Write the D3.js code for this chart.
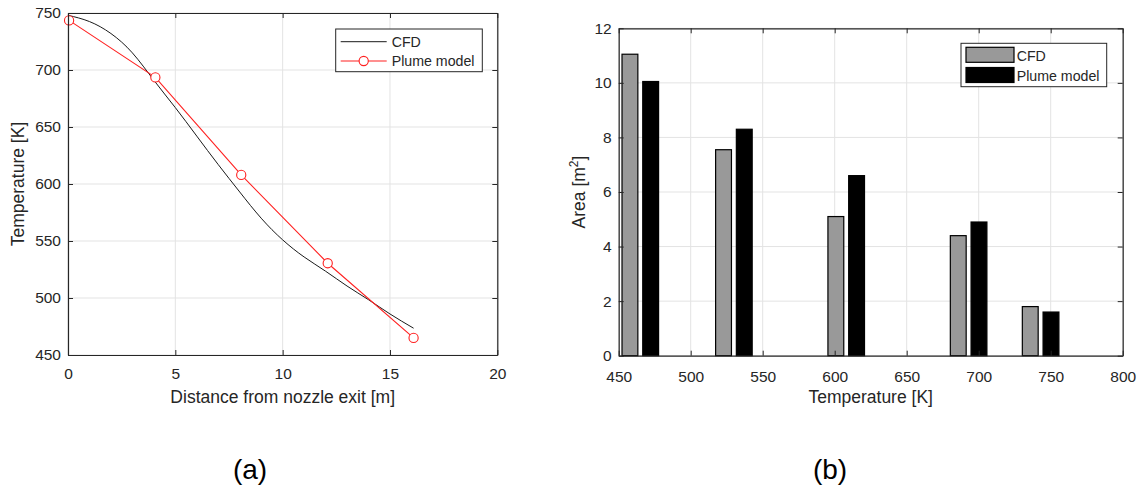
<!DOCTYPE html>
<html>
<head>
<meta charset="utf-8">
<script src="https://cdn.jsdelivr.net/npm/d3@7"></script>
<style>
  html, body { margin: 0; padding: 0; background: #fff; }
  svg { display: block; font-family: "Liberation Sans", Arial, Helvetica, sans-serif; }
</style>
</head>
<body>
<svg id="fig" width="1141" height="493"></svg>
<script>
// (a) Centreline temperature along the plume
const distanceTicks = [0, 5, 10, 15, 20];
const temperatureTicks = [450, 500, 550, 600, 650, 700, 750];
const cfdDistance = [0, 1, 2, 3, 4, 5, 6, 7, 8, 9, 10, 11, 12, 13, 14, 15, 16.1];
const cfdTemperature = [748, 742.5, 732, 715, 691, 667, 642, 617, 593, 570, 551, 536, 523.5, 510.5, 498.5, 486, 473.5];
const plumeDistance = [0.05, 4.07, 8.07, 12.1, 16.1];
const plumeTemperature = [743.5, 693.5, 608, 530.5, 465];

// (b) Area enclosed by each isotherm
const isotherms = [465, 530, 608, 693, 743];
const areaCFD = [11.05, 7.55, 5.1, 4.4, 1.8];
const areaPlume = [10.05, 8.3, 6.6, 4.9, 1.6];
const isothermTicks = [450, 500, 550, 600, 650, 700, 750, 800];
const areaTicks = [0, 2, 4, 6, 8, 10, 12];

const svg = d3.select("#fig");
const ink = "#262626";
const gridColor = "#e3e3e3";

function grid(g, x, y, xTicks, yTicks) {
  const [x0, x1] = x.range();
  const [y1, y0] = y.range();
  g.append("g").selectAll("line").data(xTicks).join("line")
    .attr("x1", d => x(d)).attr("x2", d => x(d)).attr("y1", y0).attr("y2", y1)
    .attr("stroke", gridColor).attr("stroke-width", 1);
  g.append("g").selectAll("line").data(yTicks).join("line")
    .attr("x1", x0).attr("x2", x1).attr("y1", d => y(d)).attr("y2", d => y(d))
    .attr("stroke", gridColor).attr("stroke-width", 1);
}

function axes(g, x, y, xTicks, yTicks, xPad) {
  const [x0, x1] = x.range();
  const [y1, y0] = y.range();
  const style = sel => {
    sel.select(".domain").attr("stroke", ink).attr("stroke-width", 1.2).attr("fill", "none");
    sel.selectAll(".tick line").attr("stroke", ink);
    sel.selectAll("text").attr("fill", ink).attr("font-size", 15.5)
      .attr("font-family", '"Liberation Sans", Arial, Helvetica, sans-serif');
  };
  g.append("g").attr("transform", `translate(0,${y1})`)
    .call(d3.axisBottom(x).tickValues(xTicks).tickSize(-5).tickPadding(xPad).tickSizeOuter(0))
    .call(style);
  g.append("g").attr("transform", `translate(0,${y0})`)
    .call(d3.axisTop(x).tickValues(xTicks).tickSize(-5).tickFormat("").tickSizeOuter(0))
    .call(style);
  g.append("g").attr("transform", `translate(${x0},0)`)
    .call(d3.axisLeft(y).tickValues(yTicks).tickSize(-5).tickPadding(7).tickSizeOuter(0))
    .call(style);
  g.append("g").attr("transform", `translate(${x1},0)`)
    .call(d3.axisRight(y).tickValues(yTicks).tickSize(-5).tickFormat("").tickSizeOuter(0))
    .call(style);
}

// ---------- panel (a) ----------
const xa = d3.scaleLinear().domain([0, 20]).range([68, 497.3]);
const ya = d3.scaleLinear().domain([450, 750]).range([355, 13]);
const ga = svg.append("g");
grid(ga, xa, ya, distanceTicks, temperatureTicks);

const cfdPts = cfdDistance.map((d, i) => [d, cfdTemperature[i]]);
const plumePts = plumeDistance.map((d, i) => [d, plumeTemperature[i]]);

ga.append("path")
  .attr("d", d3.line().x(d => xa(d[0])).y(d => ya(d[1])).curve(d3.curveNatural)(cfdPts))
  .attr("fill", "none").attr("stroke", "#1a1a1a").attr("stroke-width", 1);
ga.append("path")
  .attr("d", d3.line().x(d => xa(d[0])).y(d => ya(d[1]))(plumePts))
  .attr("fill", "none").attr("stroke", "#ff2020").attr("stroke-width", 1.1);
ga.append("g").selectAll("circle").data(plumePts).join("circle")
  .attr("cx", d => xa(d[0])).attr("cy", d => ya(d[1])).attr("r", 4.6)
  .attr("fill", "#fff").attr("stroke", "#ff2020").attr("stroke-width", 1.1);

axes(ga, xa, ya, distanceTicks, temperatureTicks, 13);

ga.append("text").attr("x", 282.7).attr("y", 403).attr("text-anchor", "middle")
  .attr("font-size", 17.5).attr("fill", ink).text("Distance from nozzle exit [m]");
ga.append("text").attr("transform", "translate(24,184) rotate(-90)").attr("text-anchor", "middle")
  .attr("font-size", 17.5).attr("fill", ink).text("Temperature [K]");

// legend (a)
const la = ga.append("g");
la.append("rect").attr("x", 335.7).attr("y", 29).attr("width", 146.6).attr("height", 42.7)
  .attr("fill", "#fff").attr("stroke", ink).attr("stroke-width", 1);
la.append("line").attr("x1", 340.7).attr("x2", 386.7).attr("y1", 41.7).attr("y2", 41.7)
  .attr("stroke", "#1a1a1a").attr("stroke-width", 1);
la.append("line").attr("x1", 340.7).attr("x2", 386.7).attr("y1", 61).attr("y2", 61)
  .attr("stroke", "#ff2020").attr("stroke-width", 1.1);
la.append("circle").attr("cx", 363.7).attr("cy", 61).attr("r", 4.6)
  .attr("fill", "#fff").attr("stroke", "#ff2020").attr("stroke-width", 1.1);
la.append("text").attr("x", 391.7).attr("y", 46.7).attr("font-size", 14.2).attr("fill", ink).text("CFD");
la.append("text").attr("x", 391.7).attr("y", 66).attr("font-size", 14.2).attr("fill", ink).text("Plume model");

// ---------- panel (b) ----------
const xb = d3.scaleLinear().domain([450, 800]).range([618.7, 1122.7]);
const yb = d3.scaleLinear().domain([0, 12]).range([355.7, 28.3]);
const gb = svg.append("g");
grid(gb, xb, yb, isothermTicks, areaTicks);

const barW = 11;    // K
const barOff = 7.2; // K, half spacing between paired bars
const bars = gb.append("g");
bars.selectAll("rect.cfd").data(isotherms).join("rect").attr("class", "cfd")
  .attr("x", d => xb(d - barOff - barW / 2)).attr("width", xb(450 + barW) - xb(450))
  .attr("y", (d, i) => yb(areaCFD[i])).attr("height", (d, i) => yb(0) - yb(areaCFD[i]))
  .attr("fill", "#999999").attr("stroke", "#000").attr("stroke-width", 1.2);
bars.selectAll("rect.plume").data(isotherms).join("rect").attr("class", "plume")
  .attr("x", d => xb(d + barOff - barW / 2)).attr("width", xb(450 + barW) - xb(450))
  .attr("y", (d, i) => yb(areaPlume[i])).attr("height", (d, i) => yb(0) - yb(areaPlume[i]))
  .attr("fill", "#000").attr("stroke", "#000").attr("stroke-width", 1.2);

axes(gb, xb, yb, isothermTicks, areaTicks, 15);

gb.append("text").attr("x", 870.7).attr("y", 403).attr("text-anchor", "middle")
  .attr("font-size", 17.5).attr("fill", ink).text("Temperature [K]");
const ylab = gb.append("text").attr("transform", "translate(585,192) rotate(-90)")
  .attr("text-anchor", "middle").attr("font-size", 17.5).attr("fill", ink);
ylab.append("tspan").text("Area [m");
ylab.append("tspan").attr("font-size", 12).attr("dy", -7).text("2");
ylab.append("tspan").attr("dy", 7).text("]");

// legend (b)
const lb = gb.append("g");
lb.append("rect").attr("x", 961).attr("y", 43.3).attr("width", 145.7).attr("height", 43.4)
  .attr("fill", "#fff").attr("stroke", ink).attr("stroke-width", 1);
lb.append("rect").attr("x", 966).attr("y", 47.3).attr("width", 48).attr("height", 15)
  .attr("fill", "#999999").attr("stroke", "#000").attr("stroke-width", 1.2);
lb.append("rect").attr("x", 966).attr("y", 67.5).attr("width", 48).attr("height", 15)
  .attr("fill", "#000").attr("stroke", "#000").attr("stroke-width", 1.2);
lb.append("text").attr("x", 1016.7).attr("y", 60.5).attr("font-size", 14.2).attr("fill", ink).text("CFD");
lb.append("text").attr("x", 1016.7).attr("y", 80.5).attr("font-size", 14.2).attr("fill", ink).text("Plume model");

// panel captions
svg.append("text").attr("x", 250).attr("y", 479).attr("text-anchor", "middle")
  .attr("font-size", 28).attr("fill", "#000").text("(a)");
svg.append("text").attr("x", 830).attr("y", 479).attr("text-anchor", "middle")
  .attr("font-size", 28).attr("fill", "#000").text("(b)");
</script>
</body>
</html>
